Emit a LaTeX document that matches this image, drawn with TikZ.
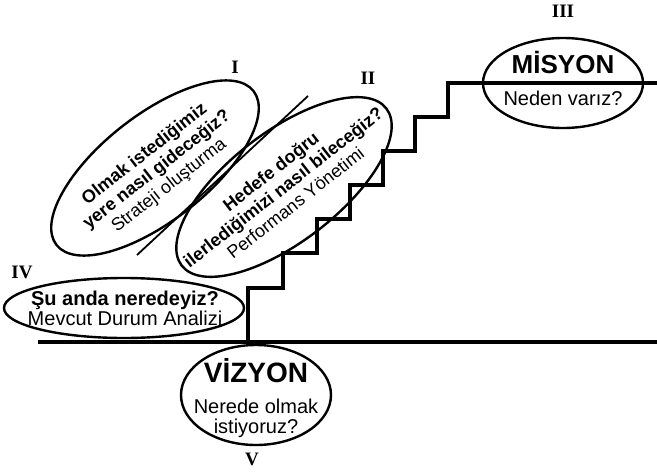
\documentclass[tikz,border=0pt]{standalone}
\usepackage{fontspec}
\setmainfont{Liberation Sans}
\newfontfamily\numfont{Liberation Serif}
\usetikzlibrary{shapes,positioning}

\tikzset{
  bubble/.style={draw,ellipse,line width=2.4pt,inner sep=0pt},
  stairline/.style={line width=4.6pt},
  numeral/.style={font=\numfont\bfseries\fontsize{19}{19}\selectfont},
  slanttext/.style={align=center,rotate=38,font=\fontsize{18}{20}\selectfont},
}

\begin{document}
\begin{tikzpicture}[x=1pt,y=-1pt]
  \useasboundingbox (0,0) rectangle (657,472);

  % ground and stairs
  \draw[stairline] (38,342) -- (657,342);
  \draw[stairline] (248,342) -- (248,288) -- (283,288) -- (283,253)
    -- (317,253) -- (317,219) -- (350,219) -- (350,185)
    -- (383,185) -- (383,151) -- (415,151) -- (415,117)
    -- (448,117) -- (448,83) -- (657,83);

  % I
  \node[bubble,minimum width=250pt,minimum height=106pt,rotate=38] (strateji) at (155,168) {};
  \node[slanttext] at ([xshift=2pt,yshift=-2pt]strateji.center)
  {
    \textbf{Olmak istediğimiz}\\
    \textbf{yere nasıl gideceğiz?}\\
    Strateji oluşturma
  };
  \node[numeral] (numI) at (235,67) {I};

  \coordinate (sepA) at (137,255);
  \coordinate (sepB) at (308,96);
  \draw[line width=1.8pt] (sepA) -- (sepB);

  % II
  \node[bubble,minimum width=258pt,minimum height=110pt,rotate=37.5] (performans) at (284,187) {};
  \node[slanttext] at ([xshift=-1pt,yshift=0pt]performans.center)
  {
    \textbf{Hedefe doğru}\\
    \textbf{ilerlediğimizi nasıl bileceğiz?}\\
    Performans Yönetimi
  };
  \node[numeral] (numII) at (368,78) {II};

  % III
  \node[bubble,minimum width=160pt,minimum height=90pt] (misyon) at (563,83) {};
  \node[font=\bfseries\fontsize{26}{26}\selectfont] at ([yshift=21pt]misyon.center) {MİSYON};
  \node[font=\fontsize{20}{20}\selectfont] at ([yshift=-15pt]misyon.center) {Neden varız?};
  \node[numeral] (numIII) at (563,11) {III};

  % IV
  \node[bubble,minimum width=240pt,minimum height=60pt] (durum) at (124,308) {};
  \node[align=center,font=\fontsize{20}{20}\selectfont] at ([xshift=1pt]durum.center)
  {
    \textbf{Şu anda neredeyiz?}\\
    Mevcut Durum Analizi
  };
  \node[numeral] (numIV) at (22,272) {IV};

  % V
  \node[bubble,minimum width=150pt,minimum height=100pt] (vizyon) at (256,395) {};
  \node[font=\bfseries\fontsize{28}{28}\selectfont] at ([yshift=24pt]vizyon.center) {VİZYON};
  \node[align=center,font=\fontsize{20}{20}\selectfont] at ([yshift=-23pt]vizyon.center)
  {
    Nerede olmak\\
    istiyoruz?
  };
  \node[numeral] (numV) at (252,459) {V};
\end{tikzpicture}
\end{document}
